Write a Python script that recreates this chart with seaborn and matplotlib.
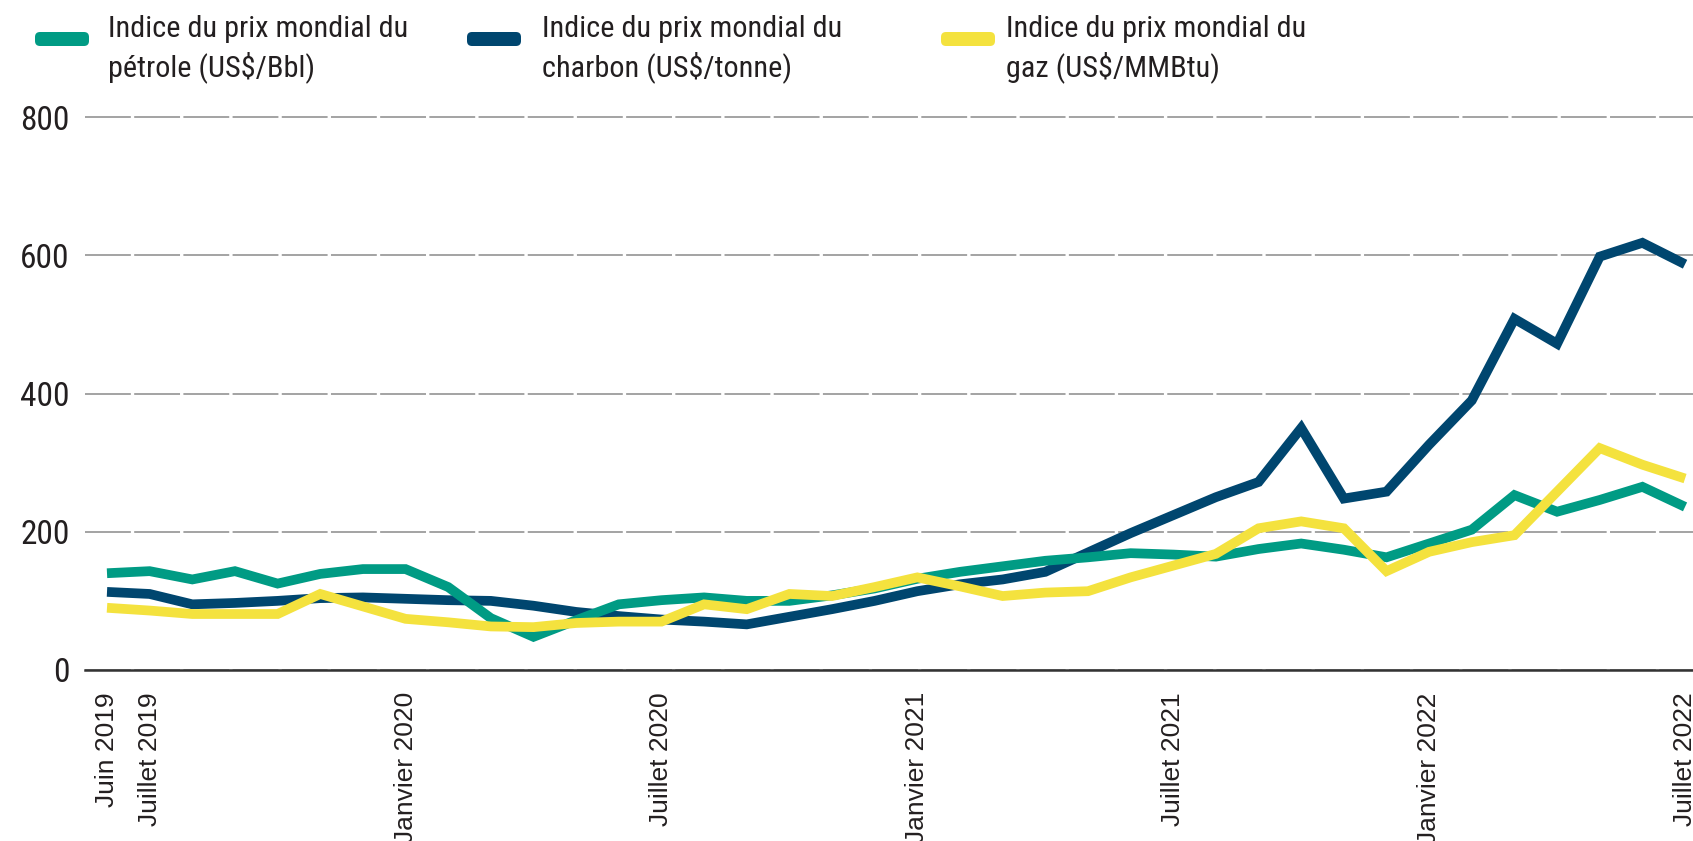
import matplotlib
matplotlib.use("Agg")
import matplotlib.pyplot as plt
from matplotlib.patches import FancyBboxPatch
from matplotlib.transforms import IdentityTransform
import seaborn as sns
import pandas as pd

# monthly series, June 2019 -> July 2022
mois = pd.period_range("2019-06", "2022-07", freq="M")
petrole = [140, 143, 131, 143, 125, 139, 146, 146, 120, 75,
           48, 72, 95, 101, 105, 100, 100, 108, 118, 132,
           142, 150, 158, 163, 169, 167, 164, 175, 183, 174,
           163, 183, 203, 253, 229, 246, 265, 236]
charbon = [113, 110, 95, 97, 100, 104, 105, 103, 101, 100,
           93, 84, 78, 73, 70, 66, 77, 88, 100, 114,
           124, 131, 142, 170, 198, 224, 250, 272, 350, 248,
           258, 326, 390, 508, 472, 598, 618, 587]
gaz = [90, 86, 81, 81, 81, 110, 92, 74, 69, 63,
       62, 68, 70, 70, 95, 88, 110, 107, 120, 134,
       121, 107, 112, 114, 134, 151, 168, 205, 215, 205,
       143, 171, 185, 195, 258, 321, 297, 277]

series_names = ["petrole", "charbon", "gaz"]
legend_labels = [("Indice du prix mondial du", "pétrole (US$/Bbl)"),
                 ("Indice du prix mondial du", "charbon (US$/tonne)"),
                 ("Indice du prix mondial du", "gaz (US$/MMBtu)")]
colors = {"petrole": "#009b84", "charbon": "#00466f", "gaz": "#f4e23e"}

tick_months = ["2019-06", "2019-07", "2020-01", "2020-07",
               "2021-01", "2021-07", "2022-01", "2022-07"]
tick_labels = ["Juin 2019", "Juillet 2019", "Janvier 2020", "Juillet 2020",
               "Janvier 2021", "Juillet 2021", "Janvier 2022", "Juillet 2022"]
y_ticks = [0, 200, 400, 600, 800]

df = pd.DataFrame({"idx": range(len(mois)), "petrole": petrole,
                   "charbon": charbon, "gaz": gaz})
long_df = df.melt(id_vars="idx", value_vars=series_names,
                  var_name="serie", value_name="valeur")

sns.set_style("white")
cond = ["Roboto Condensed", "Liberation Sans Narrow", "DejaVu Sans Condensed", "Liberation Sans"]
text_col = "#231f20"

W, H = 1693, 841
fig = plt.figure(figsize=(W / 100, H / 100), dpi=100)

# axes placement in pixels
x_left, y_zero, px_per_unit = 85, 670, 553 / 800
y_top_val = 820
ax_top = y_zero - y_top_val * px_per_unit
ax = fig.add_axes([x_left / W, (H - y_zero) / H, (W - x_left) / W, (y_zero - ax_top) / H])

sns.lineplot(data=long_df, x="idx", y="valeur", hue="serie",
             hue_order=["charbon", "petrole", "gaz"], palette=colors,
             linewidth=7, legend=False, ax=ax,
             solid_joinstyle="miter", solid_capstyle="butt")

month_step = 42.65
ax.set_xlim(-(107 - x_left) / month_step, (W - 107) / month_step)
ax.set_ylim(0, y_top_val)

tick_pos = [list(mois.strftime("%Y-%m")).index(m) for m in tick_months]
ax.set_xticks(tick_pos)
ax.set_xticklabels(tick_labels, rotation=90, fontsize=19, family="Liberation Sans",
                   color=text_col)
ax.set_yticks(y_ticks)
ax.set_yticklabels([str(v) for v in y_ticks], fontsize=24, family=cond, color=text_col)
ax.tick_params(axis="both", length=0)
ax.tick_params(axis="y", pad=11)
ax.tick_params(axis="x", pad=16)
ax.set_xlabel("")
ax.set_ylabel("")

ax.set_axisbelow(True)
ax.yaxis.grid(True, color="#8a8a8a", linewidth=1.1, linestyle=(0, (30, 2.2)))
ax.xaxis.grid(False)
for s in ["top", "right", "left"]:
    ax.spines[s].set_visible(False)
ax.spines["bottom"].set_color("#333333")
ax.spines["bottom"].set_linewidth(1.8)

# legend drawn by hand, pixel positions
handle_x = [35, 467, 941]
text_x = [108, 542, 1006]
for name, (line1, line2), hx, tx in zip(series_names, legend_labels, handle_x, text_x):
    patch = FancyBboxPatch((hx, H - 46), 54, 14,
                           boxstyle="round,pad=0,rounding_size=5",
                           facecolor=colors[name], edgecolor="none",
                           transform=IdentityTransform())
    fig.add_artist(patch)
    fig.text(tx / W, 1 - 37 / H, line1, ha="left", va="baseline", fontsize=21.8,
             family=cond, color=text_col)
    fig.text(tx / W, 1 - 76 / H, line2, ha="left", va="baseline", fontsize=21.8,
             family=cond, color=text_col)

fig.savefig("out.png", dpi=100)
